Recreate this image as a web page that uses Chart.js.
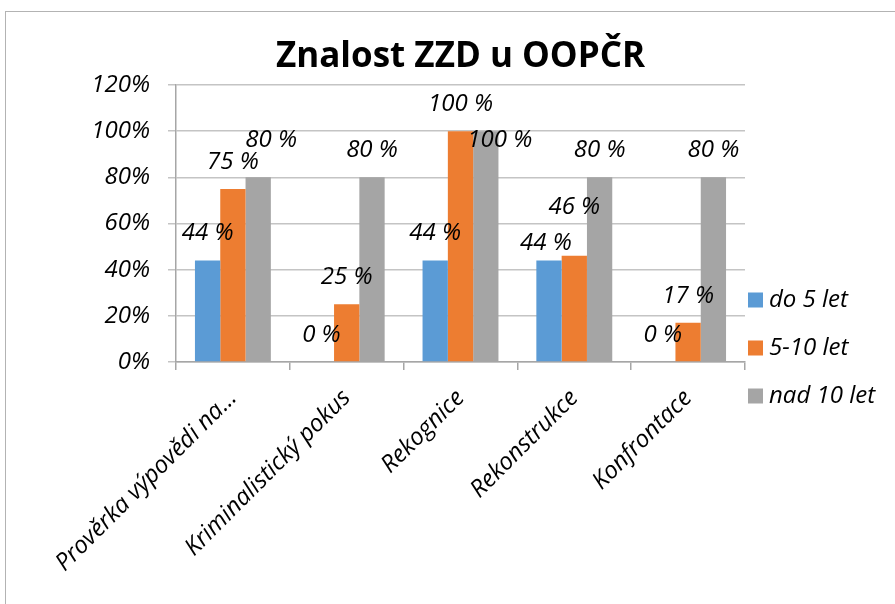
<!DOCTYPE html>
<html>
<head>
<meta charset="utf-8">
<script src="https://cdn.jsdelivr.net/npm/chart.js@4.4.1/dist/chart.umd.min.js"></script>
<style>
  html, body { margin: 0; padding: 0; background: #fff; overflow: hidden; }
  #frame { position: absolute; left: 5px; top: 11px; width: 1000px; height: 1000px; border: 1.5px solid #b3b3b3; }
  #chart { position: absolute; left: 0; top: 0; }
</style>
</head>
<body>
<div id="frame"></div>
<canvas id="chart" width="895" height="604"></canvas>
<script>
// Data
const categories = ["Prověrka výpovědi na...", "Kriminalistický pokus", "Rekognice", "Rekonstrukce", "Konfrontace"];
const seriesNames = ["do 5 let", "5-10 let", "nad 10 let"];
const do5 = [44, 0, 44, 44, 0];
const od5do10 = [75, 25, 100, 46, 17];
const nad10 = [80, 80, 100, 80, 80];
const yTicks = [0, 20, 40, 60, 80, 100, 120];

const colors = ["#5B9BD5", "#ED7D31", "#A5A5A5"];
const FONT = "'Open Sans', sans-serif";

// labels Excel moved aside to avoid overlaps  ("dataset,index": [dx, dy])
const labelNudge = { "2,0": [13, -10], "2,2": [14, 36], "0,3": [-3, 10], "1,3": [0, -22] };

const valueLabels = {
  id: "valueLabels",
  afterDatasetsDraw(chart) {
    const ctx = chart.ctx;
    ctx.save();
    ctx.font = "italic 24px " + FONT;
    ctx.fillStyle = "#000";
    ctx.textAlign = "center";
    ctx.textBaseline = "middle";
    chart.data.datasets.forEach((ds, di) => {
      chart.getDatasetMeta(di).data.forEach((bar, i) => {
        const n = labelNudge[di + "," + i] || [0, 0];
        ctx.fillText(ds.data[i] + " %", bar.x + n[0], bar.y - 27 + n[1]);
      });
    });
    ctx.restore();
  }
};

const sideLegend = {
  id: "sideLegend",
  afterDraw(chart) {
    const ctx = chart.ctx;
    const x = chart.chartArea.right + 3;
    ctx.save();
    ctx.font = "italic 24px " + FONT;
    ctx.textBaseline = "middle";
    ctx.textAlign = "left";
    chart.data.datasets.forEach((ds, i) => {
      const y = 300 + i * 48;
      ctx.fillStyle = ds.backgroundColor;
      ctx.fillRect(x, y - 7.5, 15, 15);
      ctx.fillStyle = "#000";
      ctx.fillText(ds.label, x + 21, y);
    });
    ctx.restore();
  }
};

new Chart(document.getElementById("chart"), {
  type: "bar",
  data: {
    labels: categories,
    datasets: [
      { label: seriesNames[0], data: do5, backgroundColor: colors[0] },
      { label: seriesNames[1], data: od5do10, backgroundColor: colors[1] },
      { label: seriesNames[2], data: nad10, backgroundColor: colors[2] }
    ]
  },
  options: {
    responsive: false,
    animation: false,
    layout: { padding: { left: 15, right: 150, top: 0, bottom: 0 } },
    datasets: { bar: { barPercentage: 1, categoryPercentage: 0.667 } },
    plugins: {
      legend: { display: false },
      tooltip: { enabled: false },
      title: {
        display: true,
        fullSize: false,
        text: "Znalost ZZD u OOPČR",
        color: "#000",
        font: { family: FONT, size: 35, weight: "bold", lineHeight: 1.2 },
        padding: { top: 36, bottom: 7 }
      }
    },
    scales: {
      x: {
        grid: { offset: true, drawOnChartArea: false, tickLength: 8, color: "#a6a6a6", lineWidth: 1.5 },
        border: { color: "#a6a6a6", width: 1.5 },
        ticks: {
          autoSkip: false, maxRotation: 45, minRotation: 45, padding: 14, labelOffset: 0,
          color: "#000", font: { family: FONT, size: 24, style: "italic" }
        },
        afterFit(s) { s.height = 242; }
      },
      y: {
        min: 0, max: 120,
        afterBuildTicks(s) { s.ticks = yTicks.map(v => ({ value: v })); },
        grid: { tickLength: 8, color: "#c4c4c4", lineWidth: 1.5 },
        border: { color: "#a6a6a6", width: 1.5 },
        ticks: {
          padding: 18, color: "#000",
          font: { family: FONT, size: 24, style: "italic" },
          callback: v => v + "%"
        },
        afterFit(s) { s.width = 161; }
      }
    }
  },
  plugins: [valueLabels, sideLegend]
});
</script>
</body>
</html>
